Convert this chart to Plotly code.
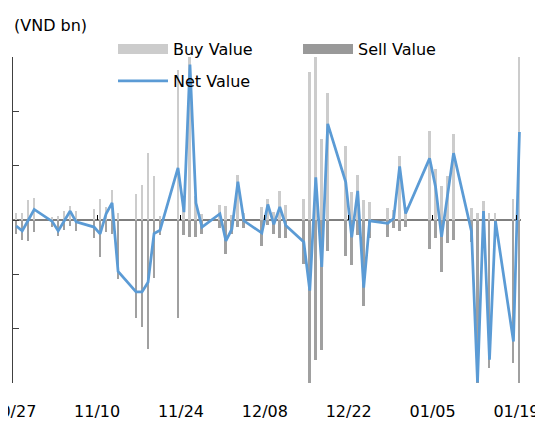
import plotly.graph_objects as go

dates = [
    "2014-10-28", "2014-10-29", "2014-10-30", "2014-10-31",
    "2014-11-03", "2014-11-04", "2014-11-05", "2014-11-06", "2014-11-07",
    "2014-11-10", "2014-11-11", "2014-11-12", "2014-11-13", "2014-11-14",
    "2014-11-17", "2014-11-18", "2014-11-19", "2014-11-20", "2014-11-21",
    "2014-11-24", "2014-11-25", "2014-11-26", "2014-11-27", "2014-11-28",
    "2014-12-01", "2014-12-02", "2014-12-03", "2014-12-04", "2014-12-05",
    "2014-12-08", "2014-12-09", "2014-12-10", "2014-12-11", "2014-12-12",
    "2014-12-15", "2014-12-16", "2014-12-17", "2014-12-18", "2014-12-19",
    "2014-12-22", "2014-12-23", "2014-12-24", "2014-12-25", "2014-12-26",
    "2014-12-29", "2014-12-30", "2014-12-31", "2015-01-01",
    "2015-01-05", "2015-01-06", "2015-01-07", "2015-01-08", "2015-01-09",
    "2015-01-12", "2015-01-13", "2015-01-14", "2015-01-15", "2015-01-16",
    "2015-01-19", "2015-01-20",
]

buy_value = [
    26, 27, 72, 82,
    12, 16, 32, 50, 33,
    42, 79, 48, 112, 27,
    96, 130, 246, 161, 16,
    553, 80, 600, 90, 23,
    54, 50, 17, 164, 25,
    47, 79, 30, 107, 54,
    77, 544, 602, 299, 469,
    271, 103, 164, 72, 65,
    44, 35, 237, 48,
    328, 186, 126, 162, 315,
    45, 27, 71, 27, 27,
    78, 603,
]

sell_value = [
    -50, -72, -77, -44,
    -25, -60, -36, -23, -39,
    -68, -135, -44, -50, -217,
    -360, -393, -475, -213, -56,
    -360, -56, -62, -62, -51,
    -29, -126, -51, -24, -30,
    -94, -20, -50, -65, -65,
    -162, -608, -516, -477, -115,
    -132, -167, -56, -318, -67,
    -61, -29, -41, -26,
    -105, -68, -191, -84, -74,
    -80, -608, -40, -545, -44,
    -525, -608,
]

net_value = [
    -22, -40, -1, 39,
    -5, -40, -4, 33, -7,
    -26, -51, 23, 63, -189,
    -265, -265, -229, -50, -38,
    192, 29, 572, 62, -26,
    23, -77, -33, 141, -3,
    -48, 57, -16, 48, -20,
    -81, -260, 157, -173, 354,
    140, -64, 107, -249, -3,
    -12, 5, 197, 24,
    227, 122, -62, 98, 246,
    -43, -598, 33, -514, -4,
    -447, 324,
]

DAY_MS = 86400000
FONT = "DejaVu Sans"
FIG_W, FIG_H = 527, 418
BUY_COLOR = "#cccccc"
SELL_COLOR = "#a0a0a0"
NET_COLOR = "#5b9bd5"

fig = go.Figure()
fig.add_bar(x=dates, y=buy_value, name="Buy Value", legendgroup="buy", showlegend=False,
            marker=dict(color=BUY_COLOR, line=dict(width=0)),
            width=0.33 * DAY_MS, cliponaxis=False)
fig.add_bar(x=dates, y=sell_value, name="Sell Value", legendgroup="sell", showlegend=False,
            marker=dict(color=SELL_COLOR, line=dict(width=0)),
            width=0.33 * DAY_MS, cliponaxis=False)
fig.add_scatter(x=dates, y=net_value, name="Net Value", mode="lines",
                line=dict(color=NET_COLOR, width=2.75), legend="legend2")
# legend keys drawn as wide swatches, linked to the bar series through their legend groups
fig.add_scatter(x=[None], y=[None], name="Buy Value", legendgroup="buy", mode="lines",
                line=dict(color=BUY_COLOR, width=10), legend="legend", hoverinfo="skip")
fig.add_scatter(x=[None], y=[None], name="Sell Value", legendgroup="sell", mode="lines",
                line=dict(color="#999999", width=10), legend="legend", hoverinfo="skip")
# carrier for the tick marks drawn on the zero line
fig.add_scatter(x=[dates[0]], y=[None], xaxis="x2", showlegend=False, hoverinfo="skip")

tick_start = "2014-10-27 12:00"
x_range = ["2014-10-27 11:00", "2015-01-20 06:12"]

fig.update_layout(
    width=FIG_W, height=FIG_H, autosize=False,
    margin=dict(l=5.3, r=14, t=48.7, b=43, pad=0, autoexpand=False),
    paper_bgcolor="white", plot_bgcolor="white",
    barmode="relative", bargap=0,
    font=dict(family=FONT, size=16, color="#000000"),
    xaxis=dict(type="date", range=x_range, tick0=tick_start, dtick=14 * DAY_MS,
               tickformat="%m/%d", showgrid=False, showline=False, zeroline=False,
               ticks="", tickfont=dict(family=FONT, size=16, color="#000000"),
               ticklabelstandoff=17, ticklabeloverflow="allow", automargin=False),
    xaxis2=dict(type="date", overlaying="x", matches="x", anchor="free", position=0.5,
                side="bottom", tick0=tick_start, dtick=14 * DAY_MS, ticks="inside",
                ticklen=5, tickwidth=1, tickcolor="#000000", showticklabels=False,
                showline=False, showgrid=False, zeroline=False, automargin=False),
    yaxis=dict(range=[-600, 600], tick0=0, dtick=200, showticklabels=False,
               ticks="inside", ticklen=6, tickwidth=1.3, tickcolor="#404040",
               showline=True, linecolor="#404040", linewidth=1.3, showgrid=False,
               zeroline=True, zerolinecolor="#7f7f7f", zerolinewidth=1.6, automargin=False),
    legend=dict(orientation="h", xref="container", yref="container",
                x=105 / FIG_W, y=1 - 41 / FIG_H, xanchor="left", yanchor="middle",
                entrywidth=120, itemwidth=50, bgcolor="rgba(0,0,0,0)",
                font=dict(family=FONT, size=16, color="#000000")),
    legend2=dict(orientation="h", xref="container", yref="container",
                 x=105 / FIG_W, y=1 - 73 / FIG_H, xanchor="left", yanchor="middle",
                 itemwidth=50, bgcolor="rgba(0,0,0,0)",
                 font=dict(family=FONT, size=16, color="#000000")),
    annotations=[dict(text="(VND bn)", xref="paper", yref="paper", x=0,
                      y=1 + (48.7 - 17) / 326.3,
                      xanchor="left", yanchor="middle", showarrow=False, xshift=-1,
                      font=dict(family=FONT, size=16, color="#000000"))],
    showlegend=True,
)

fig.write_html("out.html")
